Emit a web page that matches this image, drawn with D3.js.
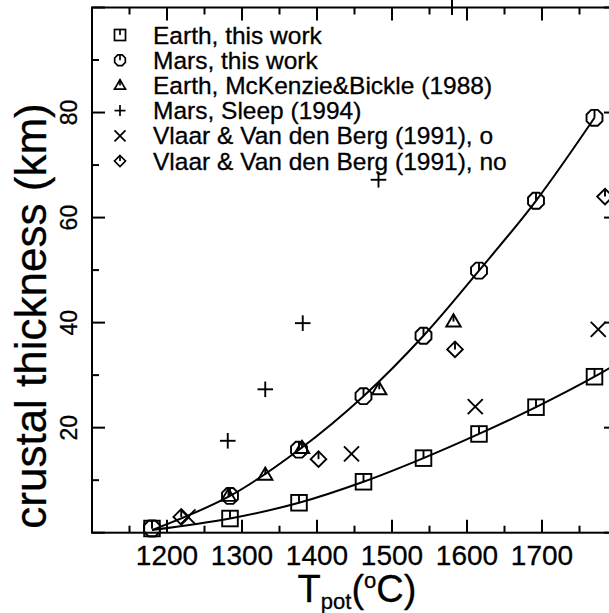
<!DOCTYPE html>
<html>
<head>
<meta charset="utf-8">
<script src="https://cdn.jsdelivr.net/npm/d3@7"></script>
<style>
  html, body { margin: 0; padding: 0; background: #fff; }
  svg { display: block; }
  text { font-family: "Liberation Sans", Arial, Helvetica, sans-serif; fill: #000; stroke: #000; stroke-width: 0.3px; }
</style>
</head>
<body>
<svg id="chart" width="609" height="613"></svg>
<script>
// ---------------- data ----------------
const earthT = [1180, 1284, 1376, 1462, 1542, 1616, 1692, 1770];
const earthV = [0.8, 2.7, 5.7, 9.7, 14.2, 18.8, 23.9, 29.7];
const marsT  = [1180, 1284, 1376, 1462, 1542, 1616, 1692, 1770];
const marsV  = [0.8, 7.0, 15.8, 26.0, 37.5, 49.9, 63.2, 79.0];
// fitted curves drawn through the model points
const earthFitT = [1180, 1284, 1376, 1462, 1542, 1616, 1692, 1770, 1800];
const earthFitV = [0.5, 2.7, 5.7, 9.7, 14.2, 18.8, 23.9, 29.7, 32.2];
const marsFitT  = [1180, 1284, 1376, 1462, 1542, 1616, 1692, 1770];
const marsFitV  = [0.5, 7.0, 15.8, 26.0, 37.5, 49.9, 63.2, 79.0];
const mckT   = [1282, 1331, 1380, 1483, 1582];
const mckV   = [7.0, 11.0, 16.1, 27.3, 40.2];
const sleepT = [1281, 1331, 1381, 1482];
const sleepV = [17.5, 27.3, 39.9, 67.2];
const vlaarOT = [1228, 1446, 1611, 1775];
const vlaarOV = [3.0, 15.0, 24.0, 38.7];
const vlaarNT = [1219, 1402, 1584, 1784];
const vlaarNV = [3.0, 14.0, 34.9, 64.0];

const legendLabels = [
  "Earth, this work",
  "Mars, this work",
  "Earth, McKenzie&Bickle (1988)",
  "Mars, Sleep (1994)",
  "Vlaar & Van den Berg (1991), o",
  "Vlaar & Van den Berg (1991), no"
];
const legendShapes = ["square", "octagon", "triangle", "plus", "cross", "diamond"];

const xMajorTicks = [1100, 1200, 1300, 1400, 1500, 1600, 1700, 1800];
const xTickLabels = [1200, 1300, 1400, 1500, 1600, 1700];
const xMinorTicks = [1150, 1250, 1350, 1450, 1550, 1650, 1750];
const yMajorTicks = [0, 20, 40, 60, 80, 100];
const yTickLabels = [20, 40, 60, 80];
const yMinorTicks = [10, 30, 50, 70, 90];
const strayMarkT = 1580; // stray tick above the frame (from a neighbouring panel)

// ---------------- layout ----------------
const svg = d3.select("#chart");
const pL = 92, pR = 617, pT = 7.5, pB = 532.7;
const x = d3.scaleLinear().domain([1100, 1800]).range([pL, pR]);
const y = d3.scaleLinear().domain([0, 100]).range([pB, pT]);
const LW = 2;

// ---------------- marker drawing ----------------
function marker(g, shape, cx, cy, s) {
  const m = g.append("g").attr("transform", `translate(${cx},${cy})`)
    .attr("fill", "none").attr("stroke", "#000").attr("stroke-width", s > 6 ? 1.9 : 1.7);
  if (shape === "square") {
    m.append("rect").attr("x", -s).attr("y", -s).attr("width", 2 * s).attr("height", 2 * s);
    m.append("line").attr("x1", 0).attr("y1", -s).attr("x2", 0).attr("y2", 0);
  } else if (shape === "octagon") {
    const pts = d3.range(8).map(i => {
      const a = Math.PI / 8 + i * Math.PI / 4;
      return [s * 1.05 * Math.cos(a), s * 1.05 * Math.sin(a)];
    });
    m.append("polygon").attr("points", pts.map(p => p.join(",")).join(" "));
    m.append("line").attr("x1", 0).attr("y1", -s).attr("x2", 0).attr("y2", 0);
  } else if (shape === "triangle") {
    const h = s * 1.7;
    m.append("polygon").attr("points", `0,${-h * 0.6} ${s},${h * 0.4} ${-s},${h * 0.4}`);
    m.append("line").attr("x1", 0).attr("y1", -h * 0.6).attr("x2", 0).attr("y2", 0);
  } else if (shape === "plus") {
    m.append("line").attr("x1", -s).attr("y1", 0).attr("x2", s).attr("y2", 0);
    m.append("line").attr("x1", 0).attr("y1", -s).attr("x2", 0).attr("y2", s);
  } else if (shape === "cross") {
    m.append("line").attr("x1", -s).attr("y1", -s).attr("x2", s).attr("y2", s);
    m.append("line").attr("x1", -s).attr("y1", s).attr("x2", s).attr("y2", -s);
  } else if (shape === "diamond") {
    m.append("polygon").attr("points", `0,${-s} ${s},0 0,${s} ${-s},0`);
    m.append("line").attr("x1", 0).attr("y1", -s).attr("x2", 0).attr("y2", 0);
  }
}

// ---------------- curves ----------------
const line = d3.line().x(d => x(d[0])).y(d => y(d[1])).curve(d3.curveCatmullRom.alpha(0.5));
const curves = svg.append("g");
curves.append("path").datum(earthFitT.map((t, i) => [t, earthFitV[i]]))
  .attr("d", line).attr("fill", "none").attr("stroke", "#000").attr("stroke-width", LW);
curves.append("path").datum(marsFitT.map((t, i) => [t, marsFitV[i]]))
  .attr("d", line).attr("fill", "none").attr("stroke", "#000").attr("stroke-width", LW);

// ---------------- markers ----------------
const mk = svg.append("g");
const sets = [
  [earthT, earthV, "square", 7.8],
  [marsT, marsV, "octagon", 8.2],
  [mckT, mckV, "triangle", 7.2],
  [sleepT, sleepV, "plus", 7.8],
  [vlaarOT, vlaarOV, "cross", 7.5],
  [vlaarNT, vlaarNV, "diamond", 7.8]
];
sets.forEach(([ts, vs, shape, s]) => {
  ts.forEach((t, i) => marker(mk, shape, x(t), y(vs[i]), s));
});

// ---------------- axes / frame ----------------
const ax = svg.append("g").attr("stroke", "#000").attr("stroke-width", LW);
ax.append("rect").attr("x", pL).attr("y", pT).attr("width", pR - pL).attr("height", pB - pT)
  .attr("fill", "none");
const MAJ = 13, MIN = 7;
xMajorTicks.forEach(t => {
  ax.append("line").attr("x1", x(t)).attr("x2", x(t)).attr("y1", pB).attr("y2", pB - MAJ);
  ax.append("line").attr("x1", x(t)).attr("x2", x(t)).attr("y1", pT).attr("y2", pT + MAJ);
});
xMinorTicks.forEach(t => {
  ax.append("line").attr("x1", x(t)).attr("x2", x(t)).attr("y1", pB).attr("y2", pB - MIN);
  ax.append("line").attr("x1", x(t)).attr("x2", x(t)).attr("y1", pT).attr("y2", pT + MIN);
});
yMajorTicks.forEach(v => {
  ax.append("line").attr("y1", y(v)).attr("y2", y(v)).attr("x1", pL).attr("x2", pL + MAJ);
  ax.append("line").attr("y1", y(v)).attr("y2", y(v)).attr("x1", pR).attr("x2", pR - MAJ);
});
yMinorTicks.forEach(v => {
  ax.append("line").attr("y1", y(v)).attr("y2", y(v)).attr("x1", pL).attr("x2", pL + MIN);
  ax.append("line").attr("y1", y(v)).attr("y2", y(v)).attr("x1", pR).attr("x2", pR - MIN);
});
ax.append("line").attr("x1", x(strayMarkT)).attr("x2", x(strayMarkT)).attr("y1", 0).attr("y2", 15);

// tick labels
svg.append("g").selectAll("text").data(xTickLabels).join("text")
  .attr("x", d => x(d)).attr("y", 565).attr("text-anchor", "middle")
  .style("font-size", "28px").text(d => d);
svg.append("g").selectAll("text").data(yTickLabels).join("text")
  .attr("transform", d => `translate(77,${y(d)}) rotate(-90)`)
  .attr("text-anchor", "middle").style("font-size", "23px").text(d => d);

// axis titles
const xt = svg.append("text").attr("x", 357).attr("y", 602).attr("text-anchor", "middle")
  .style("font-size", "38px");
xt.append("tspan").text("T");
xt.append("tspan").attr("dy", 7).style("font-size", "22px").text("pot");
xt.append("tspan").attr("dy", -7).text("(");
xt.append("tspan").attr("dy", -14).style("font-size", "22px").text("o");
xt.append("tspan").attr("dy", 14).text("C)");

svg.append("text").attr("transform", `translate(46,316) rotate(-90)`)
  .attr("text-anchor", "middle").style("font-size", "44px").text("crustal thickness (km)");

// ---------------- legend ----------------
const lg = svg.append("g");
legendLabels.forEach((lab, i) => {
  const cy = 35 + i * 25.2;
  marker(lg, legendShapes[i], 120, cy, 5.5);
  lg.append("text").attr("x", 153).attr("y", cy + 8.5).style("font-size", "24.5px").text(lab);
});
</script>
</body>
</html>
